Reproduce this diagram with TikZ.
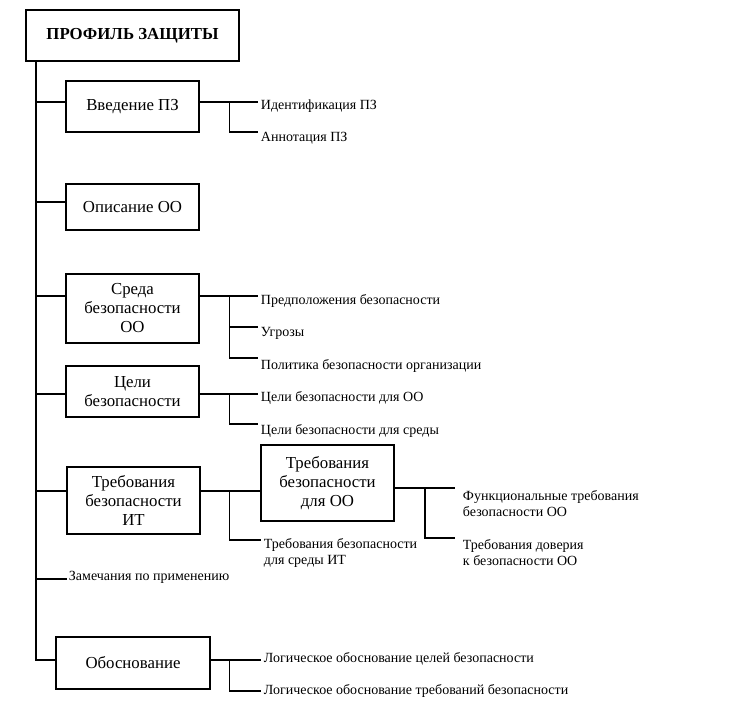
\documentclass[tikz,border=0pt]{standalone}
\usepackage{fontspec}
\setmainfont{Liberation Serif}
\usepackage{tikz}
\usetikzlibrary{positioning,calc}
\newcommand{\boxfont}{\fontsize{16.8}{19}\selectfont}
\newcommand{\leaffont}{\fontsize{14}{16}\selectfont}
\newcommand{\titlefont}{\fontsize{16.8}{19}\selectfont\bfseries}

\begin{document}
\begin{tikzpicture}[x=1pt,y=-1pt,line width=1.9pt,
		box/.style={draw,align=center,inner sep=2pt,font=\boxfont,minimum width=133},
		leaf/.style={anchor=west,align=left,inner sep=2pt,font=\leaffont}]
		\useasboundingbox (0,0) rectangle (729,714);
		
		\node[box,minimum width=213,minimum height=51,font=\titlefont] (pz) at (132.5,35.5) {ПРОФИЛЬ ЗАЩИТЫ};
		\node[box,minimum height=51] (vved) at (132.5,106.5) {Введение ПЗ};
		\node[box,minimum height=46] (opis) at (132.5,207) {Описание ОО};
		\node[box,minimum height=69] (sreda) at (132.5,308.5) {Среда\\безопасности\\ОО};
		\node[box,minimum height=51] (celi) at (132.5,391.5) {Цели\\безопасности};
		\node[box,minimum height=67] (trit) at (133.5,500.5) {Требования\\безопасности\\ИТ};
		\node[box,minimum height=76] (troo) at (327.5,483) {Требования\\безопасности\\для ОО};
		\node[box,minimum width=154,minimum height=52] (obos) at (133,663) {Обоснование};
		
		\node[leaf] (ident) at (258,106) {Идентификация ПЗ};
		\node[leaf] (annot) at (258,138) {Аннотация ПЗ};
		\node[leaf] (predp) at (258,301) {Предположения безопасности};
		\node[leaf] (ugroz) at (258,333) {Угрозы};
		\node[leaf] (polit) at (258,366) {Политика безопасности организации};
		\node[leaf] (celoo) at (258,398) {Цели безопасности для ОО};
		\node[leaf] (celsr) at (258,431) {Цели безопасности для среды};
		\node[leaf] (trsr) at (261,553) {Требования безопасности\\для среды ИТ};
		\node[leaf,inner xsep=7pt] (func) at (455,503.5) {Функциональные требования\\безопасности ОО};
		\node[leaf,inner xsep=7pt] (dover) at (455,553) {Требования доверия\\к безопасности ОО};
		\node[leaf,inner sep=1pt] (zam) at (67,577) {Замечания по применению};
		\node[leaf] (logc) at (261,659) {Логическое обоснование целей безопасности};
		\node[leaf] (logt) at (261,691) {Логическое обоснование требований безопасности};
		
		\coordinate (tb) at (36,660);
		\draw (pz.south -| tb) -- (tb) -- (tb -| obos.west);
		\draw (36,102) -- (vved.west |- 0,102);
		\draw (36,202) -- (opis.west |- 0,202);
		\draw (36,296) -- (sreda.west |- 0,296);
		\draw (36,394) -- (celi.west |- 0,394);
		\draw (36,491) -- (trit.west |- 0,491);
		\draw (36,579) -- (zam.west |- 0,579);
		
		\coordinate (v1) at (229.5,102);
		\coordinate (v2) at (229.5,132);
		\draw (vved.east |- v1) -- (v1 -| ident.west);
		\draw (v1) -- (v2) -- (v2 -| annot.west);
		
		\coordinate (s1) at (229.5,296);
		\coordinate (s2) at (229.5,327);
		\coordinate (s3) at (229.5,358);
		\draw (sreda.east |- s1) -- (s1 -| predp.west);
		\draw (s1) -- (s3) -- (s3 -| polit.west);
		\draw (s2) -- (s2 -| ugroz.west);
		
		\coordinate (c1) at (229.5,394);
		\coordinate (c2) at (229.5,424);
		\draw (celi.east |- c1) -- (c1 -| celoo.west);
		\draw (c1) -- (c2) -- (c2 -| celsr.west);
		
		\coordinate (t1) at (229.5,491);
		\coordinate (t2) at (229.5,540);
		\draw (trit.east |- t1) -- (t1 -| troo.west);
		\draw (t1) -- (t2) -- (t2 -| trsr.west);
		
		\coordinate (o1) at (425,488);
		\coordinate (o2) at (425,538);
		\draw (troo.east |- o1) -- (o1 -| func.west);
		\draw (o1) -- (o2) -- (o2 -| dover.west);
		
		\coordinate (l1) at (229.5,660);
		\coordinate (l2) at (229.5,691);
		\draw (obos.east |- l1) -- (l1 -| logc.west);
		\draw (l1) -- (l2) -- (l2 -| logt.west);
		\end{tikzpicture}
\end{document}
